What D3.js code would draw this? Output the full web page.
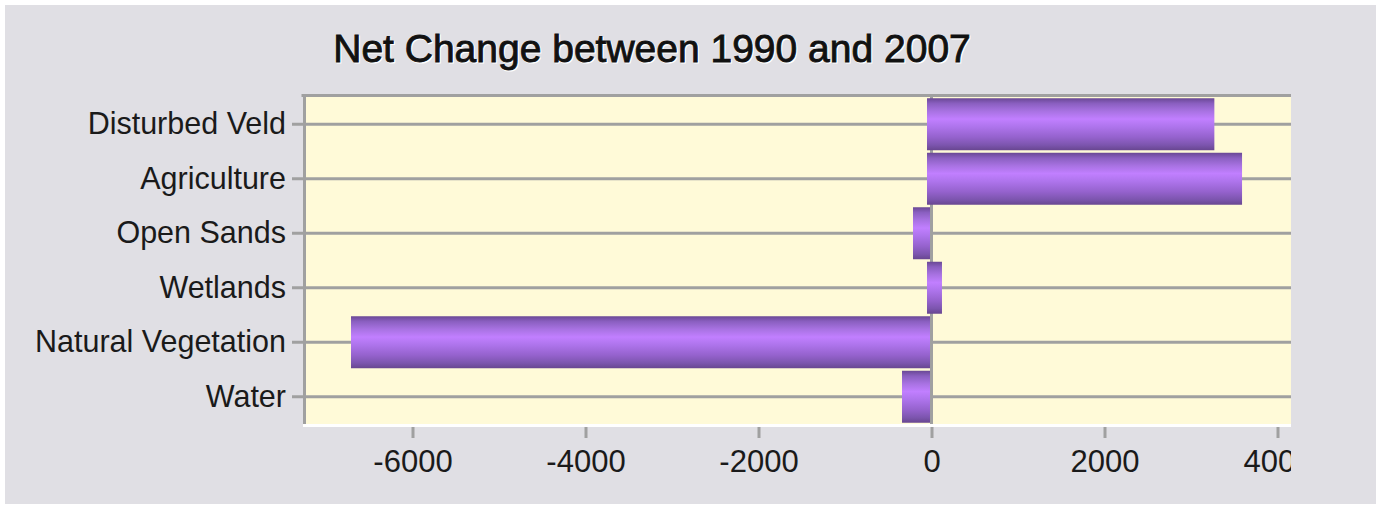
<!DOCTYPE html>
<html>
<head>
<meta charset="utf-8">
<script src="https://cdn.jsdelivr.net/npm/d3@7"></script>
<style>
  html, body { margin: 0; padding: 0; background: #fff; }
  svg { display: block; font-family: "Liberation Sans", Arial, sans-serif; }
</style>
</head>
<body>
<div class="canvas"></div>
<script>
// data
const categories = ['Disturbed Veld', 'Agriculture', 'Open Sands', 'Wetlands', 'Natural Vegetation', 'Water'];
const netChange = [3270, 3590, -214, 121, -6711, -341];
const tickValues = [-6000, -4000, -2000, 0, 2000, 4000];
const title = 'Net Change between 1990 and 2007';

const width = 1376, height = 505;

const svg = d3.select('.canvas')
    .append('svg')
        .attr('width', width)
        .attr('height', height);

// plot box
const plot = {left: 303, right: 1291, top: 97, bottom: 424};

svg.append('rect')
    .attr('x', 5).attr('y', 5)
    .attr('width', width - 5).attr('height', height - 6)
    .attr('fill', '#e0dfe4');

const defs = svg.append('defs');
const grad = defs.append('linearGradient')
    .attr('id', 'barGrad')
    .attr('x1', 0).attr('y1', 0).attr('x2', 0).attr('y2', 1);
[['0%', '#6a4895'], ['10%', '#8a5fc0'], ['25%', '#a872e2'], ['40%', '#c17fff'],
 ['55%', '#ae74ec'], ['75%', '#9562cd'], ['90%', '#7c55ae'], ['100%', '#684690']]
    .forEach(s => grad.append('stop').attr('offset', s[0]).attr('stop-color', s[1]));

defs.append('clipPath').attr('id', 'plotClip')
    .append('rect')
        .attr('x', 0).attr('y', 0)
        .attr('width', plot.right).attr('height', height);

// scales
const x = d3.scaleLinear()
    .domain([-7266, 4156])
    .range([plot.left, plot.right]);

const y = d3.scaleBand()
    .domain(categories)
    .range([plot.top, plot.bottom])
    .paddingInner(0.046)
    .paddingOuter(0.023);

const yMid = d => y(d) + y.bandwidth() / 2;

// background of the plot
svg.append('rect')
    .attr('x', plot.left).attr('y', plot.top)
    .attr('width', plot.right - plot.left).attr('height', plot.bottom - plot.top)
    .attr('fill', '#fffad8');

// gridlines at category centres (with ticks sticking out left)
svg.append('g').selectAll('line')
    .data(categories)
    .enter().append('line')
        .attr('x1', plot.left - 11).attr('x2', plot.right)
        .attr('y1', d => yMid(d)).attr('y2', d => yMid(d))
        .attr('stroke', '#a0a0a0').attr('stroke-width', 3);

// zero line
svg.append('line')
    .attr('x1', x(0)).attr('x2', x(0))
    .attr('y1', plot.top).attr('y2', plot.bottom)
    .attr('stroke', '#a0a0a0').attr('stroke-width', 3);

// plot border (top, left) and white bottom edge
svg.append('line')
    .attr('x1', plot.left - 1.5).attr('x2', plot.right)
    .attr('y1', plot.top - 1.5).attr('y2', plot.top - 1.5)
    .attr('stroke', '#a0a0a0').attr('stroke-width', 3);
svg.append('line')
    .attr('x1', plot.left + 1.5).attr('x2', plot.left + 1.5)
    .attr('y1', plot.top - 3).attr('y2', plot.bottom)
    .attr('stroke', '#a0a0a0').attr('stroke-width', 3);
svg.append('line')
    .attr('x1', plot.left).attr('x2', plot.right)
    .attr('y1', plot.bottom + 1.5).attr('y2', plot.bottom + 1.5)
    .attr('stroke', '#ffffff').attr('stroke-width', 3);

// bars
const data = categories.map((c, i) => ({name: c, value: netChange[i]}));
svg.append('g').selectAll('rect')
    .data(data)
    .enter().append('rect')
        .attr('x', d => d.value >= 0 ? x(0) - 4.5 : x(d.value))
        .attr('width', d => d.value >= 0 ? x(d.value) - x(0) + 4.5 : x(0) - 1.5 - x(d.value))
        .attr('y', d => y(d.name))
        .attr('height', y.bandwidth())
        .attr('fill', 'url(#barGrad)');

// x axis
const xAxisGroup = svg.append('g')
    .attr('clip-path', 'url(#plotClip)')
    .attr('transform', `translate(0, ${plot.bottom + 3})`);
const xAxis = d3.axisBottom(x)
    .tickValues(tickValues)
    .tickSize(11)
    .tickPadding(12)
    .tickFormat(d3.format('d'));
xAxisGroup.call(xAxis);
xAxisGroup.select('.domain').remove();
xAxisGroup.selectAll('.tick line').attr('stroke', '#a0a0a0').attr('stroke-width', 3);
xAxisGroup.selectAll('.tick text')
    .attr('font-size', 31)
    .attr('font-family', '"Liberation Sans", Arial, sans-serif')
    .attr('fill', '#1a1a1a')
    .text(d => d < 0 ? '-' + Math.abs(d) : d);

// y axis labels
const yAxisGroup = svg.append('g')
    .attr('transform', `translate(${plot.left}, 0)`);
const yAxis = d3.axisLeft(y).tickSize(0).tickPadding(17);
yAxisGroup.call(yAxis);
yAxisGroup.select('.domain').remove();
yAxisGroup.selectAll('.tick text')
    .attr('font-size', 30.5)
    .attr('font-family', '"Liberation Sans", Arial, sans-serif')
    .attr('fill', '#1a1a1a');

// title with a light halo
svg.append('text')
    .attr('x', 653).attr('y', 63)
    .attr('text-anchor', 'middle')
    .attr('font-size', 39)
    .attr('fill', '#ffffff')
    .attr('stroke', '#ffffff').attr('stroke-width', 1.2)
    .text(title);
svg.append('text')
    .attr('x', 652).attr('y', 62)
    .attr('text-anchor', 'middle')
    .attr('font-size', 39)
    .attr('fill', '#111111')
    .attr('stroke', '#111111').attr('stroke-width', 0.9)
    .text(title);
</script>
</body>
</html>
